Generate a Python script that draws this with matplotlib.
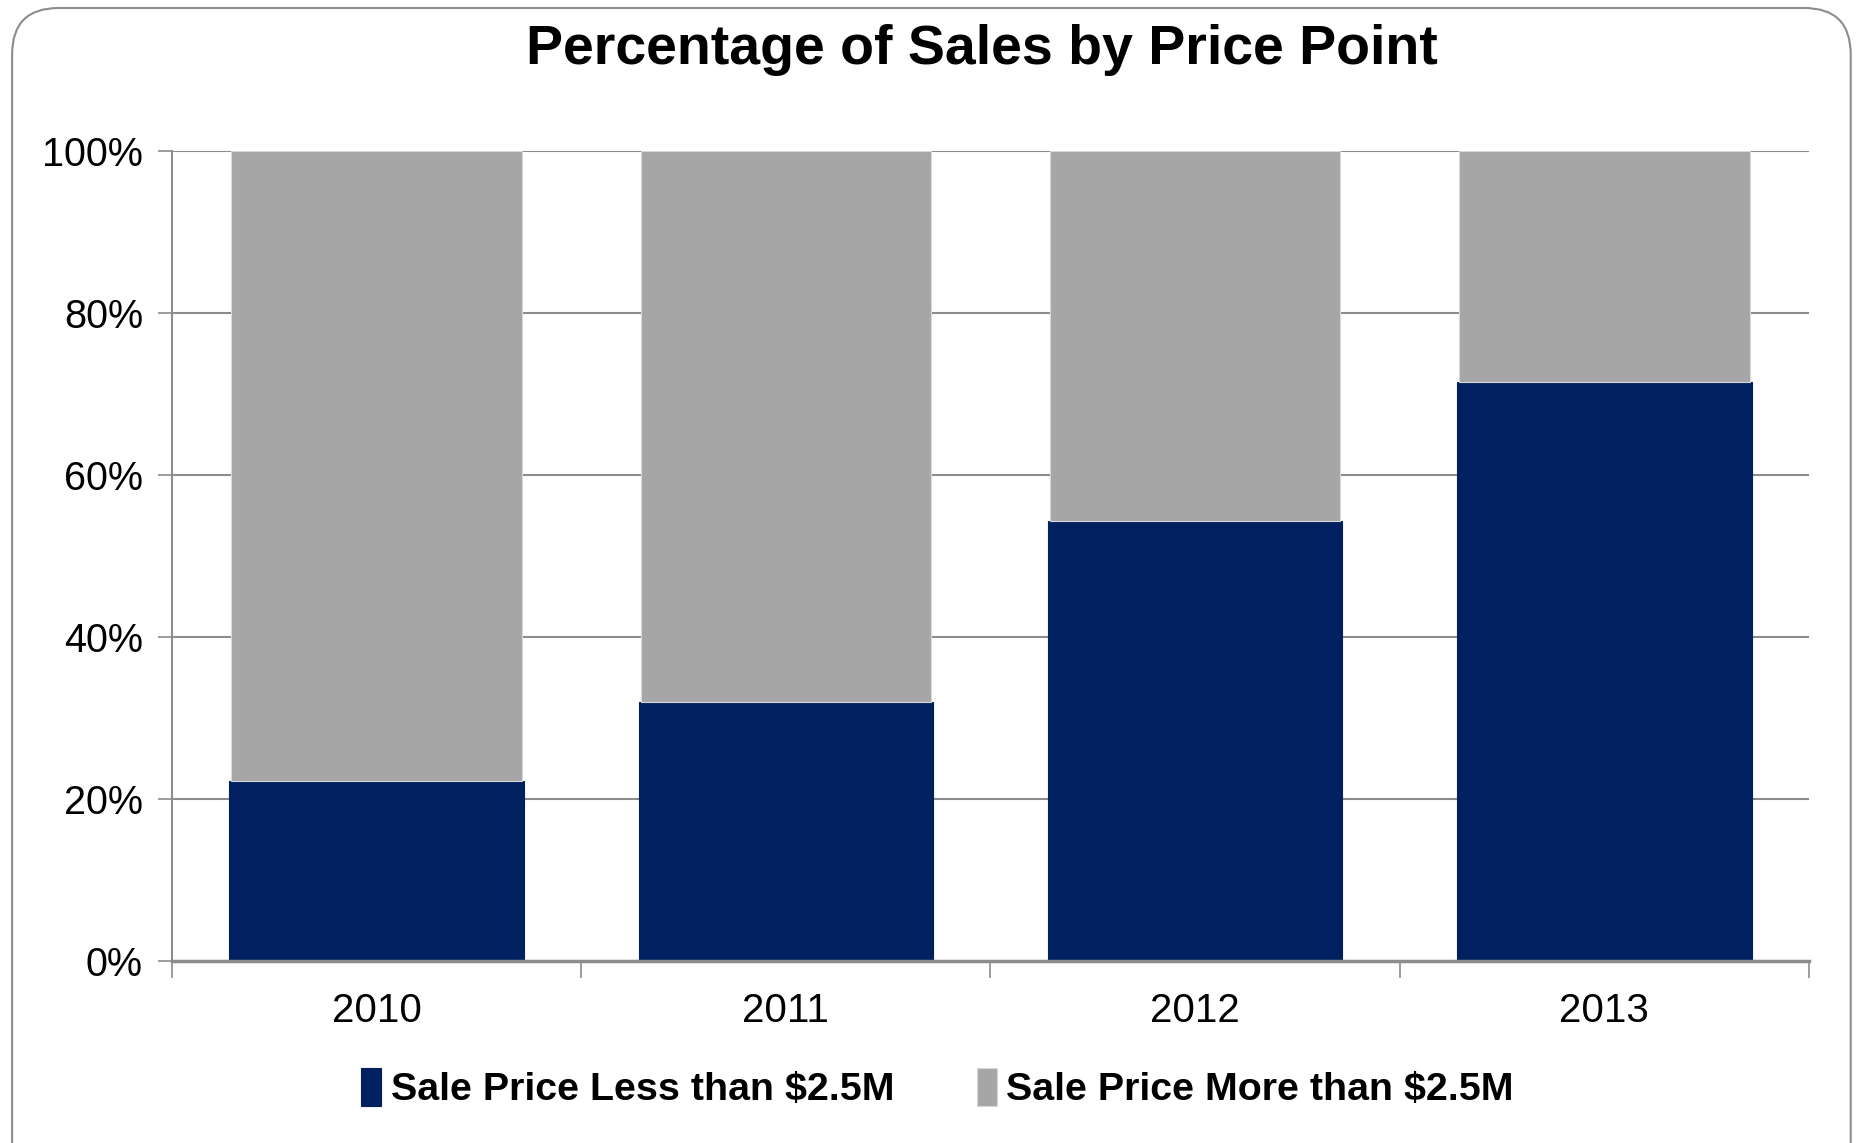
import matplotlib.pyplot as plt
from matplotlib.patches import FancyBboxPatch
from matplotlib.ticker import FuncFormatter
import numpy as np

plt.rcParams['font.family'] = ['Liberation Sans', 'DejaVu Sans']

years = ['2010', '2011', '2012', '2013']
less_than = [22.3, 32.0, 54.3, 71.5]
more_than = [100 - v for v in less_than]
series_names = ['Sale Price Less than $2.5M', 'Sale Price More than $2.5M']

navy = '#002060'
gray = '#A6A6A6'
grid_gray = '#8C8C8C'

fig = plt.figure(figsize=(18.6, 11.43), dpi=100)
ax = fig.add_axes([0.0925, 0.159, 0.880, 0.709])

x = np.arange(len(years))
ax.bar(x, less_than, width=0.72, color=navy, edgecolor=navy, linewidth=0.8,
       label=series_names[0], zorder=3)
ax.bar(x, more_than, width=0.71, bottom=less_than, color=gray, edgecolor='#D9D9D9',
       linewidth=0.8, label=series_names[1], zorder=3)

ax.set_xlim(-0.5, len(years) - 0.5)
ax.set_ylim(0, 100)
ax.set_yticks(np.arange(0, 101, 20))
ax.yaxis.set_major_formatter(FuncFormatter(lambda v, _: f'{v:.0f}%'))
ax.grid(axis='y', color=grid_gray, linewidth=1.5, zorder=0)

# category labels between boundary ticks
ax.set_xticks(np.arange(-0.5, len(years), 1.0))
ax.set_xticklabels([])
ax.set_xticks(x, minor=True)
ax.set_xticklabels(years, minor=True)
ax.tick_params(axis='x', which='major', length=12, width=1.2, color=grid_gray, direction='out')
ax.tick_params(axis='x', which='minor', length=0, pad=22, labelsize=29)
ax.tick_params(axis='y', length=10, width=1.2, color=grid_gray, labelsize=28.5, pad=11)

for side in ['top', 'right']:
    ax.spines[side].set_visible(False)
ax.spines['left'].set_color(grid_gray)
ax.spines['left'].set_linewidth(1.5)
ax.spines['bottom'].set_color(grid_gray)
ax.spines['bottom'].set_linewidth(2.5)
ax.spines['bottom'].set_zorder(4)

fig.text(0.528, 0.956, 'Percentage of Sales by Price Point', ha='center', va='center',
         fontsize=40, fontweight='bold')

handles, labels = ax.get_legend_handles_labels()
fig.legend(handles, labels, loc='center', bbox_to_anchor=(0.504, 0.048), ncol=2,
           frameon=False, prop={'size': 28.4, 'weight': 'bold'}, handlelength=0.5,
           handleheight=1.1, handletextpad=0.25, columnspacing=2.1)

border = FancyBboxPatch((0.0065, -0.05), 0.9885, 1.043, transform=fig.transFigure,
                        boxstyle='round,pad=0,rounding_size=0.025', facecolor='none',
                        edgecolor='#8C8C8C', linewidth=1.5, mutation_aspect=1860 / 1143)
fig.patches.append(border)

fig.savefig('out.png', dpi=100)
